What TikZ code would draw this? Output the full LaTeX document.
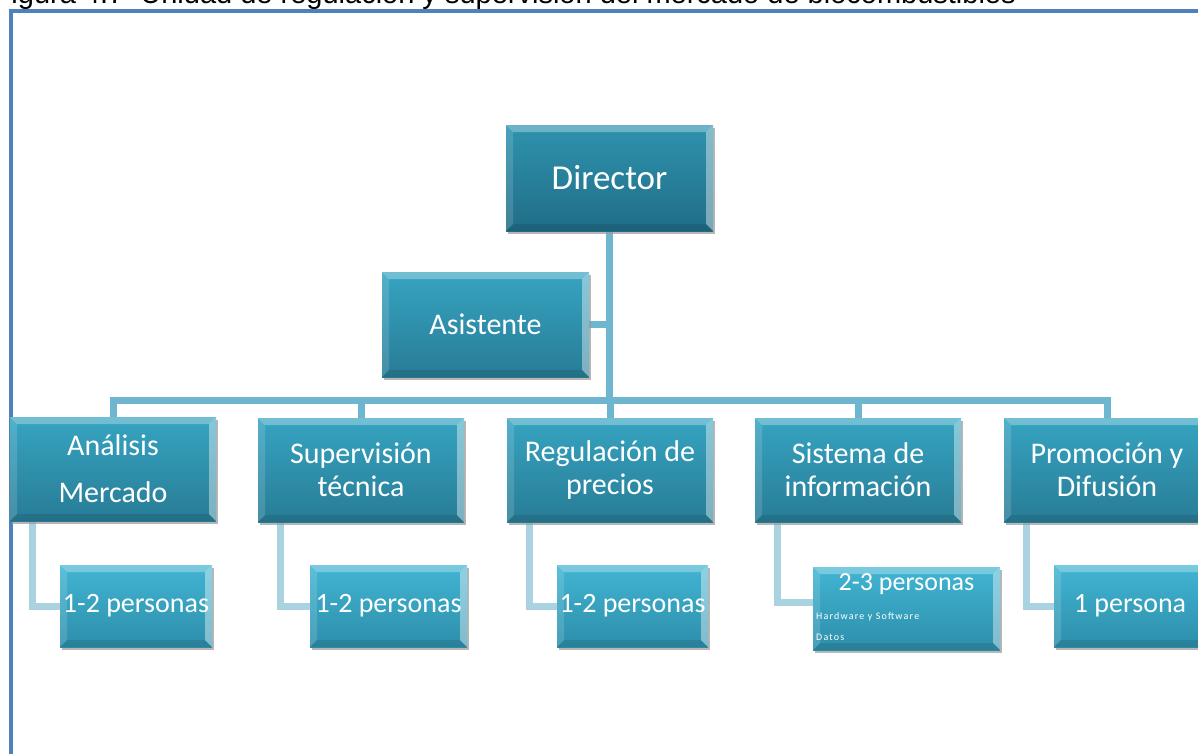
\documentclass[tikz,border=0pt]{standalone}
\usepackage{fontspec}
\setmainfont{Carlito}
\newfontfamily\captionfont{Liberation Sans}
\usetikzlibrary{shadings,shadows,backgrounds}

\definecolor{framecol}{HTML}{4F81BD}
\definecolor{linkcol}{HTML}{6EB6CF}
\definecolor{sublinkcol}{HTML}{A9D3E1}
\definecolor{boxtop}{HTML}{36A4C1}
\definecolor{boxbot}{HTML}{287C96}
\definecolor{dirtop}{HTML}{2E93AE}
\definecolor{dirbot}{HTML}{216D87}
\definecolor{subtop}{HTML}{41B5D3}
\definecolor{subbot}{HTML}{2D8EAA}

\tikzset{
  bevel/.style={
    path picture={
      \fill[white,opacity=.30]
        (path picture bounding box.north west) -- (path picture bounding box.north east)
        -- ([xshift=-#1,yshift=-#1]path picture bounding box.north east)
        -- ([xshift=#1,yshift=-#1]path picture bounding box.north west) -- cycle;
      \fill[white,opacity=.14]
        (path picture bounding box.north west) -- ([xshift=#1,yshift=-#1]path picture bounding box.north west)
        -- ([xshift=#1,yshift=#1]path picture bounding box.south west)
        -- (path picture bounding box.south west) -- cycle;
      \fill[white,opacity=.40]
        (path picture bounding box.north east) -- ([xshift=-#1,yshift=-#1]path picture bounding box.north east)
        -- ([xshift=-#1,yshift=#1]path picture bounding box.south east)
        -- (path picture bounding box.south east) -- cycle;
      \fill[black,opacity=.10]
        (path picture bounding box.south west) -- ([xshift=#1,yshift=#1]path picture bounding box.south west)
        -- ([xshift=-#1,yshift=#1]path picture bounding box.south east)
        -- (path picture bounding box.south east) -- cycle;
    }},
  orgbox/.style={
    rectangle, inner sep=0pt, align=center, text=white,
    top color=boxtop, bottom color=boxbot, bevel=7pt,
    drop shadow={shadow xshift=2pt, shadow yshift=-3pt, fill=black!40, opacity=.7},
    font=\fontsize{30}{33}\selectfont},
  dirbox/.style={orgbox, top color=dirtop, bottom color=dirbot,
    font=\fontsize{35}{40}\selectfont},
  subbox/.style={orgbox, top color=subtop, bottom color=subbot,
    font=\fontsize{28}{32}\selectfont},
  link/.style={draw=linkcol, line width=7pt},
  sublink/.style={draw=sublinkcol, line width=7pt},
  tiny/.style={inner sep=0pt, anchor=west, text=white,
    font=\fontsize{10}{12}\selectfont\addfontfeature{LetterSpace=12}},
  frame/.style={draw=framecol, line width=3.5pt}
}

\begin{document}
\begin{tikzpicture}[x=1pt,y=-1pt]
\useasboundingbox (0,0) rectangle (1198,753);
\clip (0,0) rectangle (1198,753);

% caption line, mostly above the page edge
\node[inner sep=0pt, anchor=base east, font=\captionfont\fontsize{29}{32}\selectfont]
  (caption) at (1016,3.5) {Figura 4.7\ \ Unidad de regulación y supervisión del mercado de biocombustibles};

% frame
\draw[frame] (11,770) -- (11,11) -- (1215,11);

% boxes
\node[dirbox, minimum width=207pt, minimum height=106pt] (dir) at (609.5,178) {Director};
\node[orgbox, minimum width=207pt, minimum height=105pt] (asis) at (485.5,324.5) {Asistente};

\node[orgbox, minimum width=206pt, minimum height=104pt, font=\fontsize{30}{47}\selectfont]
  (r1) at (113,469) {Análisis\\Mercado};
\node[orgbox, minimum width=206pt, minimum height=104pt] (r2) at (361,470) {Supervisión\\técnica};
\node[orgbox, minimum width=206pt, minimum height=104pt] (r3) at (610,470) {Regulación de\\precios};
\node[orgbox, minimum width=206pt, minimum height=104pt] (r4) at (858,470) {Sistema de\\información};
\node[orgbox, minimum width=206pt, minimum height=104pt] (r5) at (1107,470) {Promoción y\\Difusión};

\node[subbox, minimum width=152pt, minimum height=82pt] (s1) at (136,606) {1-2 personas};
\node[subbox, minimum width=157pt, minimum height=82pt] (s2) at (388.5,606) {1-2 personas};
\node[subbox, minimum width=151pt, minimum height=82pt] (s3) at (632.5,606) {1-2 personas};
\node[subbox, minimum width=187pt, minimum height=83pt, text depth=52pt, font=\fontsize{26}{30}\selectfont]
  (s4) at (906.5,608.5) {2-3 personas};
\node[subbox, minimum width=152pt, minimum height=82pt] (s5) at (1130,606) {1 persona};

\node[tiny] (hw) at (816,617) {Hardware y Software};
\node[tiny] (datos) at (816,637) {Datos};

% connectors, behind the boxes
\coordinate (bus) at (609.5,400);
\begin{scope}[on background layer]
  \fill[white] (0,0) rectangle (1198,753);
  \draw[link] (dir.south) -- (bus);
  \draw[link] (asis.east) -- (asis.east -| dir.south);
  \foreach \r in {r1,r2,r3,r4,r5}
    \draw[link] (bus) -| (\r.north);
  \foreach \r/\s in {r1/s1,r2/s2,r3/s3,r5/s5}
    \draw[sublink] ([xshift=23pt]\r.south west) |- (\s.west);
  \draw[sublink] ([xshift=23pt]r4.south west) |- ([yshift=6pt]s4.west);
\end{scope}
\end{tikzpicture}
\end{document}
